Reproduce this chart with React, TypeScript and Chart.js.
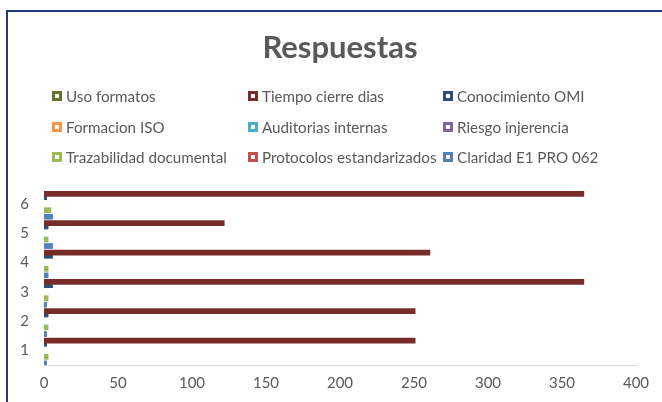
import React, { useEffect, useRef } from "react";
import { Chart, registerables } from "chart.js";

Chart.register(...registerables);

const categories = ["1", "2", "3", "4", "5", "6"];
const seriesNames = [
  "Uso formatos",
  "Tiempo cierre dias",
  "Conocimiento OMI",
  "Formacion ISO",
  "Auditorias internas",
  "Riesgo injerencia",
  "Trazabilidad documental",
  "Protocolos estandarizados",
  "Claridad E1 PRO 062",
];
const usoFormatos = [0, 0, 0, 0, 0, 0];
const tiempoCierreDias = [251, 251, 365, 261, 122, 365];
const conocimientoOMI = [2, 3, 6, 6, 3, 2];
const formacionISO = [0, 0, 0, 0, 0, 0];
const auditoriasInternas = [0, 0, 0, 0, 0, 0];
const riesgoInjerencia = [0, 0, 0, 0, 0, 0];
const trazabilidadDocumental = [3, 3, 3, 3, 3, 5];
const protocolosEstandarizados = [0, 0, 0, 0, 0, 0];
const claridadE1PRO062 = [2, 2, 2, 3, 6, 6];
const seriesValues = [
  usoFormatos,
  tiempoCierreDias,
  conocimientoOMI,
  formacionISO,
  auditoriasInternas,
  riesgoInjerencia,
  trazabilidadDocumental,
  protocolosEstandarizados,
  claridadE1PRO062,
];
const seriesColors = [
  "#5F7530",
  "#772C2A",
  "#2C4D75",
  "#F79646",
  "#4BACC6",
  "#8064A2",
  "#9BBB59",
  "#C0504D",
  "#4F81BD",
];
const xTicks = [0, 50, 100, 150, 200, 250, 300, 350, 400];

const FONT = "Lato, 'Open Sans', sans-serif";
const TEXT = "#595959";

const gridLegend = {
  id: "gridLegend",
  afterDraw(chart: any) {
    const ctx = chart.ctx;
    const colX = [52, 248, 443];
    const rowY = [96, 127, 157];
    ctx.save();
    ctx.font = `15.2px ${FONT}`;
    ctx.textBaseline = "middle";
    ctx.textAlign = "left";
    chart.data.datasets.forEach((ds: any, i: number) => {
      const x = colX[i % 3];
      const y = rowY[Math.floor(i / 3)];
      ctx.fillStyle = ds.backgroundColor;
      ctx.fillRect(x, y - 5, 10, 10);
      ctx.fillStyle = "#ffffff";
      ctx.fillRect(x + 3, y - 2, 4, 4);
      ctx.fillStyle = TEXT;
      ctx.fillText(ds.label, x + 14, y + 1);
    });
    ctx.restore();
  },
};

export default function App() {
  const ref = useRef<HTMLCanvasElement | null>(null);
  useEffect(() => {
    if (!ref.current) return;
    const chart = new Chart(ref.current, {
      type: "bar",
      data: {
        labels: categories,
        datasets: seriesNames.map((name, i) => ({
          label: name,
          data: seriesValues[i],
          backgroundColor: seriesColors[i],
          borderWidth: 0,
          categoryPercentage: 1,
          barPercentage: 1.75,
        })),
      },
      options: {
        indexAxis: "y",
        responsive: false,
        animation: false,
        layout: { padding: { left: 0, right: 26, top: 0, bottom: 0 } },
        plugins: {
          legend: { display: false },
          tooltip: { enabled: false },
          title: {
            display: true,
            text: "Respuestas",
            fullSize: false,
            color: TEXT,
            font: { family: FONT, size: 31, weight: "bold" },
            padding: { top: 29.4, bottom: 122.4 },
          },
        },
        scales: {
          x: {
            type: "linear",
            min: 0,
            max: 400,
            afterBuildTicks: (scale: any) => {
              scale.ticks = xTicks.map((v) => ({ value: v }));
            },
            afterFit: (scale: any) => {
              scale.height = 37;
            },
            grid: { display: false, drawTicks: false },
            border: { display: true, color: "#D9D9D9", width: 1 },
            ticks: {
              color: TEXT,
              padding: 9,
              font: { family: FONT, size: 15 },
            },
          },
          y: {
            type: "category",
            reverse: true,
            afterFit: (scale: any) => {
              scale.width = 44;
            },
            grid: { display: false, drawTicks: false },
            border: { display: false },
            ticks: {
              color: TEXT,
              padding: 15,
              font: { family: FONT, size: 15 },
            },
          },
        },
      },
      plugins: [gridLegend],
    });
    return () => chart.destroy();
  }, []);

  return (
    <div
      style={{
        position: "fixed",
        left: 0,
        top: 0,
        width: 662,
        height: 402,
        background: "#ffffff",
        overflow: "hidden",
      }}
    >
      <canvas ref={ref} width={662} height={402} style={{ display: "block" }} />
      <div
        style={{
          position: "absolute",
          left: 6,
          top: 10,
          width: 720,
          height: 460,
          borderTop: "2px solid #1F3A78",
          borderLeft: "2px solid #1F3A78",
          pointerEvents: "none",
        }}
      />
    </div>
  );
}
